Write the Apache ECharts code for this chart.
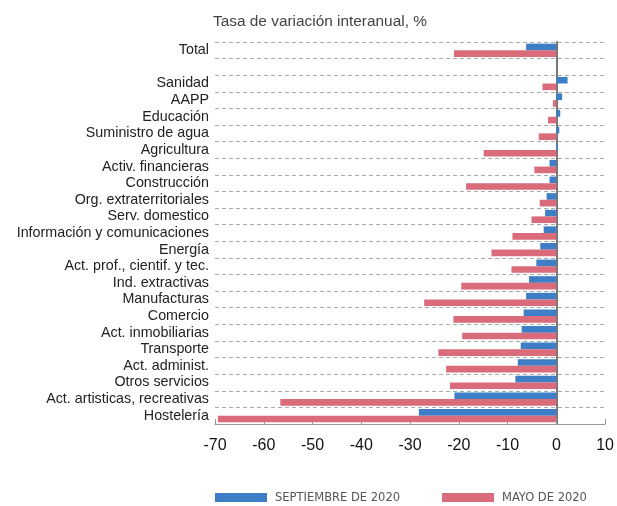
<!DOCTYPE html>
<html>
<head>
<meta charset="utf-8">
<script src="https://cdn.jsdelivr.net/npm/echarts@6/dist/echarts.min.js"></script>
<style>
html,body{margin:0;padding:0;background:#fff;}
#chart{width:617px;height:506px;}
</style>
</head>
<body>
<div id="chart"></div>
<script>
var categories = ['Total', '', 'Sanidad', 'AAPP', 'Educación', 'Suministro de agua', 'Agricultura',
  'Activ. financieras', 'Construcción', 'Org. extraterritoriales', 'Serv. domestico',
  'Información y comunicaciones', 'Energía', 'Act. prof., cientif. y tec.', 'Ind. extractivas',
  'Manufacturas', 'Comercio', 'Act. inmobiliarias', 'Transporte', 'Act. administ.',
  'Otros servicios', 'Act. artisticas, recreativas', 'Hostelería'];
var septiembre2020 = [-6.2, null, 2.3, 1.2, 0.8, 0.6, 0.3, -1.4, -1.4, -2.0, -2.3, -2.6, -3.3, -4.1, -5.6,
  -6.2, -6.7, -7.1, -7.3, -7.9, -8.4, -20.9, -28.2];
var mayo2020 = [-21.0, null, -2.85, -0.7, -1.7, -3.6, -14.9, -4.5, -18.5, -3.4, -5.1, -9.0, -13.3, -9.2, -19.5,
  -27.1, -21.1, -19.3, -24.2, -22.6, -21.8, -56.6, -69.4];
var xTicks = [-70, -60, -50, -40, -30, -20, -10, 0, 10];
var seriesNames = ['SEPTIEMBRE DE 2020', 'MAYO DE 2020'];
var colors = ['#3d7ec7', '#d96b7a'];

var legendText = {fontFamily: 'DejaVu Sans Condensed, Liberation Sans Narrow, sans-serif', fontSize: 12.8, color: '#555', padding: [0,0,0,3]};
var chart = echarts.init(document.getElementById('chart'), null, {renderer: 'canvas'});
chart.setOption({
  animation: false,
  backgroundColor: '#fff',
  textStyle: {fontFamily: 'Liberation Sans, Arial, sans-serif'},
  title: {
    text: 'Tasa de variación interanual, %',
    left: 208, top: 9,
    textStyle: {fontSize: 15.4, fontWeight: 'normal', color: '#444'}
  },
  legend: [
    {data: [seriesNames[0]], left: 210, top: 486, icon: 'rect', itemWidth: 52, itemHeight: 9, textStyle: legendText},
    {data: [seriesNames[1]], left: 437, top: 486, icon: 'rect', itemWidth: 52, itemHeight: 9, textStyle: legendText}
  ],
  grid: {left: 215, right: 9, top: 42, bottom: 82, containLabel: false},
  xAxis: {
    type: 'value', min: xTicks[0], max: xTicks[xTicks.length - 1], interval: 10,
    axisLine: {show: true, lineStyle: {color: '#999', width: 1}},
    axisTick: {show: true, inside: true, length: 5, lineStyle: {color: '#999'}},
    axisLabel: {fontSize: 16, color: '#111', margin: 14},
    splitLine: {show: false}
  },
  yAxis: {
    type: 'category', data: categories, inverse: true,
    axisLine: {show: true, onZero: true, lineStyle: {color: '#777', width: 2}},
    axisTick: {show: false},
    axisLabel: {fontSize: 14.3, color: '#222', margin: 6, interval: 0},
    splitLine: {show: true, interval: 0, lineStyle: {color: '#aaa', type: [4, 3], width: 1}}
  },
  series: [
    {name: seriesNames[0], type: 'bar', data: septiembre2020, itemStyle: {color: colors[0]},
     barGap: '0%', barCategoryGap: '20%'},
    {name: seriesNames[1], type: 'bar', data: mayo2020, itemStyle: {color: colors[1]},
     barGap: '0%', barCategoryGap: '20%'}
  ]
});
</script>
</body>
</html>
